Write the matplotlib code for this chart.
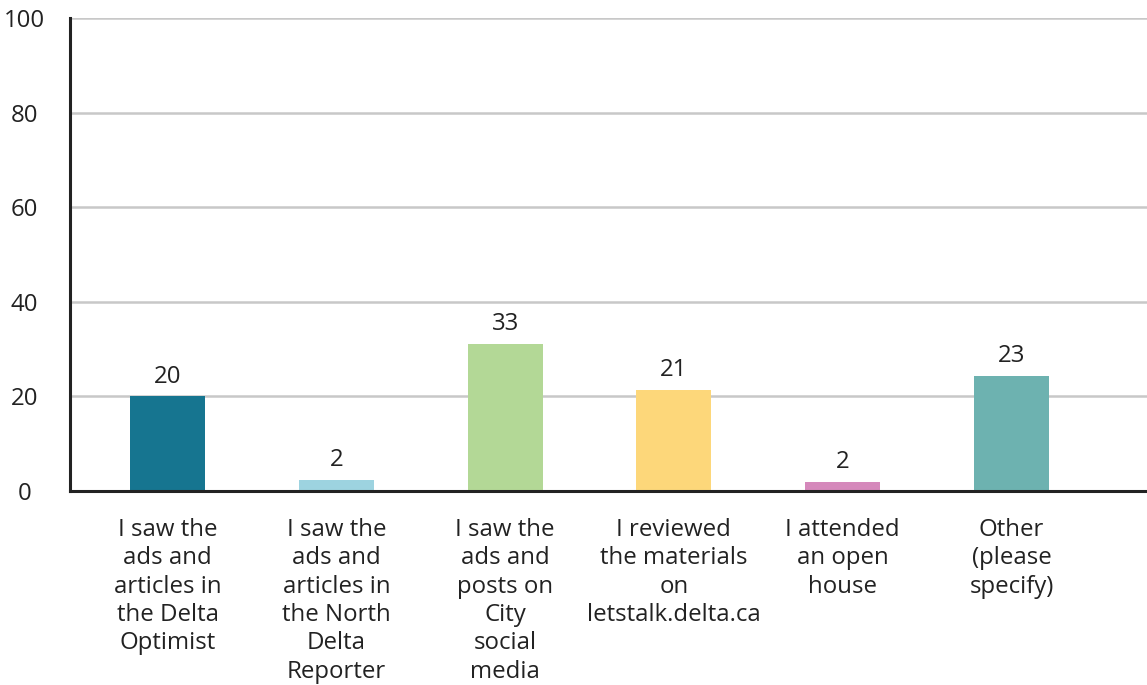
import matplotlib
matplotlib.use("Agg")
import matplotlib.pyplot as plt
import numpy as np

plt.rcParams['font.family'] = ['Open Sans', 'DejaVu Sans']

# answers to the "how did you hear" question
categories = [
    "I saw the\nads and\narticles in\nthe Delta\nOptimist",
    "I saw the\nads and\narticles in\nthe North\nDelta\nReporter",
    "I saw the\nads and\nposts on\nCity\nsocial\nmedia",
    "I reviewed\nthe materials\non\nletstalk.delta.ca",
    "I attended\nan open\nhouse",
    "Other\n(please\nspecify)",
]
# bar heights as drawn in the picture, and the printed labels
bar_heights = [20, 2.3, 31, 21.3, 2, 24.3]
bar_labels = ["20", "2", "33", "21", "2", "23"]
colors = ["#167590", "#9dd3e0", "#b3d896", "#fdd77a", "#d588bb", "#6db2b0"]

yticks = [0, 20, 40, 60, 80, 100]

text_col = "#222222"
fs = 17.3

fig = plt.figure(figsize=(11.47, 6.85), dpi=100)
ax = fig.add_axes([70 / 1147, 1 - 491 / 685, 1 - 70 / 1147, (491 - 18) / 685])

x = np.arange(len(categories))
bars = ax.bar(x, bar_heights, width=0.444, color=colors, zorder=3)

for b, lab in zip(bars, bar_labels):
    ax.annotate(lab, (b.get_x() + b.get_width() / 2, b.get_height()),
                xytext=(0, 10), textcoords="offset points",
                ha="center", va="baseline", fontsize=fs, color=text_col)

ax.set_xlim(-0.578, 5.803)
ax.set_ylim(0, 100)
ax.set_yticks(yticks)
ax.yaxis.grid(True, color="#c8c8c8", linewidth=1.8, zorder=0)
ax.set_axisbelow(True)

ax.set_xticks(x)
ax.set_xticklabels(categories, fontsize=fs, color=text_col,
                   linespacing=1.24, multialignment="center")
ax.tick_params(axis="x", length=0, pad=19.5)
ax.tick_params(axis="y", length=0, pad=33, labelsize=fs, labelcolor=text_col)
for t in ax.get_yticklabels():
    t.set_horizontalalignment("center")

for s in ["top", "right"]:
    ax.spines[s].set_visible(False)
for s in ["left", "bottom"]:
    ax.spines[s].set_color(text_col)
    ax.spines[s].set_linewidth(2.2)
    ax.spines[s].set_zorder(4)

fig.savefig("out.png", dpi=100)
